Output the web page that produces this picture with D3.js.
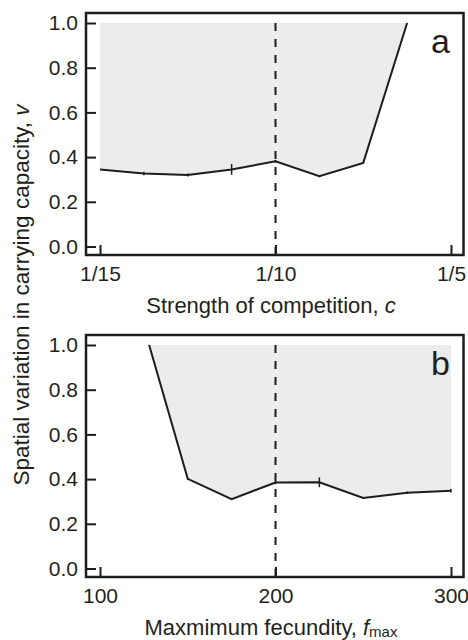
<!DOCTYPE html>
<html>
<head>
<meta charset="utf-8">
<script src="https://cdn.jsdelivr.net/npm/d3@7"></script>
<style>
    body { margin: 0; background: #fff; }
    text { font-family: "Liberation Sans", Arial, sans-serif; fill: #231f20; }
</style>
</head>
<body>
<svg width="468" height="640"></svg>
<script>
// panel a: strength of competition (plotted on equally spaced positions)
var compPos = [0, 1, 2, 3, 4, 5, 6, 7];
var compV = [0.344, 0.327, 0.320, 0.345, 0.381, 0.314, 0.374, 1.0];
var compErr = [0, 0.008, 0.007, 0.024, 0.006, 0.004, 0, 0];
var compTicks = [0, 4, 8];
var compTickLabels = ["1/15", "1/10", "1/5"];

// panel b: maximum fecundity
var fecF = [128, 150, 175, 200, 225, 250, 275, 300];
var fecV = [1.0, 0.401, 0.310, 0.385, 0.386, 0.316, 0.339, 0.348];
var fecErr = [0, 0.004, 0.004, 0.008, 0.022, 0.004, 0.006, 0.008];
var fecTicks = [100, 200, 300];

var vTicks = [0, 0.2, 0.4, 0.6, 0.8, 1.0];

var svg = d3.select("svg");
var ink = "#1e1c1d";

function drawPanel(opt) {
    var g = svg.append("g").attr("transform", "translate(0," + opt.top + ")");

    var x = d3.scaleLinear().domain(opt.xDomain).range([100, 451]);
    var y = d3.scaleLinear().domain([0, 1]).range([233.5, 10]);

    var pts = opt.xs.map(function (d, i) {
        return {x: d, v: opt.vs[i], e: opt.errs[i]};
    });

    // grey region above the line
    var area = d3.area()
        .x(function (d) { return x(d.x); })
        .y0(function () { return y(1); })
        .y1(function (d) { return y(d.v); });
    g.append("path").datum(pts)
        .attr("d", area)
        .attr("fill", "#ececec");

    // dashed reference line
    g.append("line")
        .attr("x1", x(opt.refX)).attr("x2", x(opt.refX))
        .attr("y1", y(1)).attr("y2", 242)
        .attr("stroke", ink)
        .attr("stroke-width", 2)
        .attr("stroke-dasharray", "8,8");

    var line = d3.line()
        .x(function (d) { return x(d.x); })
        .y(function (d) { return y(d.v); });
    g.append("path").datum(pts)
        .attr("d", line)
        .attr("fill", "none")
        .attr("stroke", ink)
        .attr("stroke-width", 2);

    g.selectAll(".err").data(pts.filter(function (d) { return d.e > 0; }))
        .enter().append("line")
        .attr("x1", function (d) { return x(d.x); })
        .attr("x2", function (d) { return x(d.x); })
        .attr("y1", function (d) { return y(d.v + d.e); })
        .attr("y2", function (d) { return y(d.v - d.e); })
        .attr("stroke", ink)
        .attr("stroke-width", 1.5);

    // frame
    g.append("rect")
        .attr("x", 86).attr("y", 0)
        .attr("width", 377.5).attr("height", 242)
        .attr("fill", "none")
        .attr("stroke", ink)
        .attr("stroke-width", 2.5);

    // y axis, ticks pointing in
    var yAxis = d3.axisLeft(y).tickValues(vTicks)
        .tickFormat(d3.format(".1f"))
        .tickSizeInner(-10).tickSizeOuter(0).tickPadding(8);
    var ya = g.append("g").attr("transform", "translate(86,0)").call(yAxis);
    ya.select(".domain").remove();
    ya.selectAll("line").attr("stroke", ink).attr("stroke-width", 2);
    ya.selectAll("text").attr("font-size", 21)
        .attr("font-family", "Liberation Sans, Arial, sans-serif").attr("fill", ink);

    var xAxis = d3.axisBottom(x).tickValues(opt.ticks)
        .tickFormat(function (d, i) { return opt.tickLabels ? opt.tickLabels[i] : d; })
        .tickSizeInner(-10).tickSizeOuter(0).tickPadding(11);
    var xa = g.append("g").attr("transform", "translate(0,242)").call(xAxis);
    xa.select(".domain").remove();
    xa.selectAll("line").attr("stroke", ink).attr("stroke-width", 2);
    xa.selectAll("text").attr("font-size", 21)
        .attr("font-family", "Liberation Sans, Arial, sans-serif").attr("fill", ink);

    // panel letter
    g.append("text")
        .attr("x", 450).attr("y", 40)
        .attr("text-anchor", "end")
        .attr("font-size", 34)
        .text(opt.letter);

    // axis title
    var t = g.append("text")
        .attr("x", 271).attr("y", 300)
        .attr("text-anchor", "middle")
        .attr("font-size", 22);
    t.append("tspan").text(opt.title);
    t.append("tspan").attr("font-style", "italic").text(opt.titleVar);
    if (opt.titleSub) {
        t.append("tspan").attr("dy", 2).attr("font-size", 15).text(opt.titleSub);
    }
}

drawPanel({
    top: 13, letter: "a",
    xDomain: [0, 8], xs: compPos, vs: compV, errs: compErr,
    ticks: compTicks, tickLabels: compTickLabels, refX: 4,
    title: "Strength of competition, ", titleVar: "c"
});

drawPanel({
    top: 335, letter: "b",
    xDomain: [100, 300], xs: fecF, vs: fecV, errs: fecErr,
    ticks: fecTicks, refX: 200,
    title: "Maxmimum fecundity, ", titleVar: "f", titleSub: "max"
});

svg.append("text")
    .attr("transform", "translate(29,295) rotate(-90)")
    .attr("text-anchor", "middle")
    .attr("font-size", 22.5)
    .text("Spatial variation in carrying capacity, ")
    .append("tspan").attr("font-style", "italic").text("v");
</script>
</body>
</html>
